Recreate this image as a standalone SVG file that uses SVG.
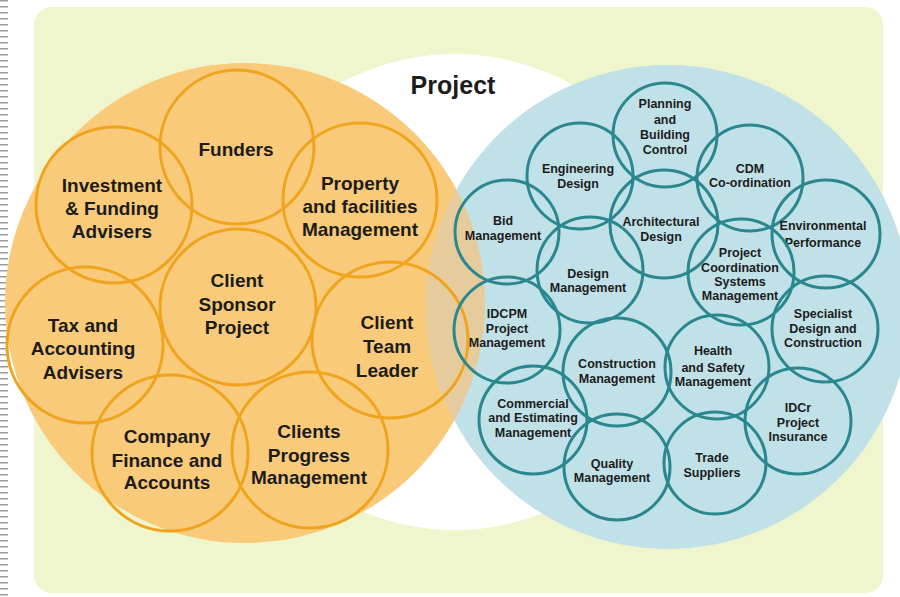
<svg xmlns="http://www.w3.org/2000/svg" width="900" height="597" viewBox="0 0 900 597">
  <defs>
    <style>
      .lbl { font-family: "Liberation Sans", Arial, sans-serif; font-weight: bold; fill: #1c1c1c; text-anchor: middle; }
      .big { font-size: 19px; }
      .sm { font-size: 12.5px; }
      .ring-o { fill: none; stroke: #f0a31c; stroke-width: 3; }
      .ring-b { fill: none; stroke: #2a878d; stroke-width: 3; }
    </style>
    <clipPath id="orangeClip">
      <circle cx="245" cy="303" r="240"/>
    </clipPath>
  </defs>

  <!-- page -->
  <rect x="0" y="0" width="900" height="597" fill="#ffffff"/>
  <line x1="4" y1="0" x2="4" y2="597" stroke="#9a9a9a" stroke-width="8" stroke-dasharray="1.5 4.5"/>
  <rect x="34" y="7" width="849" height="586" rx="18" fill="#eff5cc"/>

  <!-- large fields -->
  <circle id="project-field" cx="455" cy="292" r="238" fill="#ffffff"/>
  <circle id="client-field" cx="245" cy="303" r="240" fill="#f8ca79"/>
  <circle id="delivery-field" cx="668" cy="307" r="242" fill="#c0e1e8"/>
  <circle cx="668" cy="307" r="242" fill="#e6cc9c" clip-path="url(#orangeClip)"/>

  <text class="lbl" x="453" y="94" font-size="25">Project</text>

  <!-- client side -->
  <g id="funders">
    <circle class="ring-o" cx="237" cy="147" r="77"/>
    <text class="lbl big" x="236" y="156">Funders</text>
  </g>
  <g id="investment-advisers">
    <circle class="ring-o" cx="114" cy="205" r="78"/>
    <text class="lbl big" x="112"><tspan x="112" y="192">Investment</tspan><tspan x="112" y="215">&amp; Funding</tspan><tspan x="112" y="238">Advisers</tspan></text>
  </g>
  <g id="property-management">
    <circle class="ring-o" cx="360" cy="200" r="77"/>
    <text class="lbl big" x="360"><tspan x="360" y="190">Property</tspan><tspan x="360" y="213">and facilities</tspan><tspan x="360" y="236">Management</tspan></text>
  </g>
  <g id="tax-advisers">
    <circle class="ring-o" cx="85" cy="345" r="78"/>
    <text class="lbl big" x="83"><tspan x="83" y="332">Tax and</tspan><tspan x="83" y="355">Accounting</tspan><tspan x="83" y="379">Advisers</tspan></text>
  </g>
  <g id="client-team-leader">
    <circle class="ring-o" cx="390" cy="340" r="78"/>
    <text class="lbl big" x="387"><tspan x="387" y="329">Client</tspan><tspan x="387" y="353">Team</tspan><tspan x="387" y="377">Leader</tspan></text>
  </g>
  <g id="company-finance">
    <circle class="ring-o" cx="170" cy="453" r="78"/>
    <text class="lbl big" x="167"><tspan x="167" y="443">Company</tspan><tspan x="167" y="467">Finance and</tspan><tspan x="167" y="489">Accounts</tspan></text>
  </g>
  <g id="clients-progress">
    <circle class="ring-o" cx="310" cy="450" r="78"/>
    <text class="lbl big" x="309"><tspan x="309" y="438">Clients</tspan><tspan x="309" y="462">Progress</tspan><tspan x="309" y="484">Management</tspan></text>
  </g>
  <g id="client-sponsor">
    <circle class="ring-o" cx="238" cy="307" r="78"/>
    <text class="lbl big" x="237"><tspan x="237" y="287">Client</tspan><tspan x="237" y="311">Sponsor</tspan><tspan x="237" y="334">Project</tspan></text>
  </g>

  <!-- delivery side -->
  <g id="planning-control">
    <circle class="ring-b" cx="665" cy="135" r="52"/>
    <text class="lbl sm" x="665"><tspan x="665" y="108">Planning</tspan><tspan x="665" y="124">and</tspan><tspan x="665" y="139">Building</tspan><tspan x="665" y="154">Control</tspan></text>
  </g>
  <g id="engineering-design">
    <circle class="ring-b" cx="580" cy="176" r="53"/>
    <text class="lbl sm" x="578"><tspan x="578" y="173">Engineering</tspan><tspan x="578" y="188">Design</tspan></text>
  </g>
  <g id="cdm-coordination">
    <circle class="ring-b" cx="750" cy="178" r="53"/>
    <text class="lbl sm" x="750"><tspan x="750" y="173">CDM</tspan><tspan x="750" y="187">Co-ordination</tspan></text>
  </g>
  <g id="bid-management">
    <circle class="ring-b" cx="507" cy="232" r="52"/>
    <text class="lbl sm" x="503"><tspan x="503" y="225">Bid</tspan><tspan x="503" y="240">Management</tspan></text>
  </g>
  <g id="architectural-design">
    <circle class="ring-b" cx="664" cy="224" r="54"/>
    <text class="lbl sm" x="661"><tspan x="661" y="226">Architectural</tspan><tspan x="661" y="241">Design</tspan></text>
  </g>
  <g id="environmental-performance">
    <circle class="ring-b" cx="826" cy="234" r="54"/>
    <text class="lbl sm" x="823"><tspan x="823" y="230">Environmental</tspan><tspan x="823" y="247">Performance</tspan></text>
  </g>
  <g id="design-management">
    <circle class="ring-b" cx="590" cy="270" r="53"/>
    <text class="lbl sm" x="588"><tspan x="588" y="278">Design</tspan><tspan x="588" y="292">Management</tspan></text>
  </g>
  <g id="project-coordination">
    <circle class="ring-b" cx="741" cy="272" r="53"/>
    <text class="lbl sm" x="740"><tspan x="740" y="257">Project</tspan><tspan x="740" y="272">Coordination</tspan><tspan x="740" y="286">Systems</tspan><tspan x="740" y="300">Management</tspan></text>
  </g>
  <g id="idcpm-project-management">
    <circle class="ring-b" cx="507" cy="330" r="53"/>
    <text class="lbl sm" x="507"><tspan x="507" y="318">IDCPM</tspan><tspan x="507" y="333">Project</tspan><tspan x="507" y="347">Management</tspan></text>
  </g>
  <g id="specialist-design">
    <circle class="ring-b" cx="825" cy="329" r="53"/>
    <text class="lbl sm" x="823"><tspan x="823" y="318">Specialist</tspan><tspan x="823" y="333">Design and</tspan><tspan x="823" y="347">Construction</tspan></text>
  </g>
  <g id="construction-management">
    <circle class="ring-b" cx="617" cy="372" r="54"/>
    <text class="lbl sm" x="617"><tspan x="617" y="368">Construction</tspan><tspan x="617" y="383">Management</tspan></text>
  </g>
  <g id="health-safety">
    <circle class="ring-b" cx="717" cy="367" r="52"/>
    <text class="lbl sm" x="713"><tspan x="713" y="355">Health</tspan><tspan x="713" y="372">and Safety</tspan><tspan x="713" y="386">Management</tspan></text>
  </g>
  <g id="commercial-estimating">
    <circle class="ring-b" cx="533" cy="420" r="54"/>
    <text class="lbl sm" x="533"><tspan x="533" y="408">Commercial</tspan><tspan x="533" y="422">and Estimating</tspan><tspan x="533" y="437">Management</tspan></text>
  </g>
  <g id="idcr-insurance">
    <circle class="ring-b" cx="798" cy="421" r="53"/>
    <text class="lbl sm" x="798"><tspan x="798" y="412">IDCr</tspan><tspan x="798" y="427">Project</tspan><tspan x="798" y="441">Insurance</tspan></text>
  </g>
  <g id="quality-management">
    <circle class="ring-b" cx="617" cy="467" r="53"/>
    <text class="lbl sm" x="612"><tspan x="612" y="468">Quality</tspan><tspan x="612" y="482">Management</tspan></text>
  </g>
  <g id="trade-suppliers">
    <circle class="ring-b" cx="715" cy="463" r="51"/>
    <text class="lbl sm" x="712"><tspan x="712" y="462">Trade</tspan><tspan x="712" y="477">Suppliers</tspan></text>
  </g>
</svg>
